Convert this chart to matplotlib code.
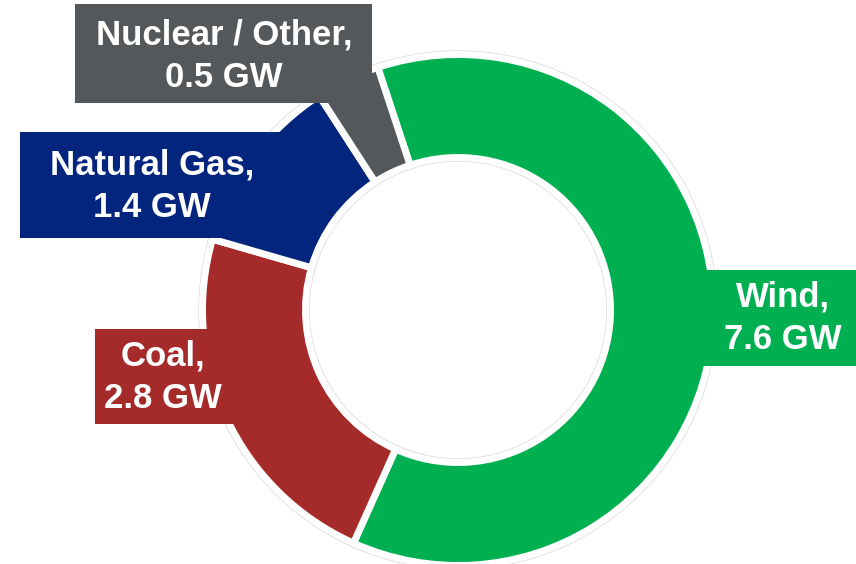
import matplotlib.pyplot as plt
from matplotlib.patches import Rectangle

# Datos de la capacidad (GW)
labels = ["Wind", "Coal", "Natural Gas", "Nuclear / Other"]
capacity_gw = [7.6, 2.8, 1.4, 0.5]
colors = ["#00B050", "#A52A2A", "#03257E", "#54585A"]

# Cajas de etiqueta en pixeles (x, y, ancho, alto), y medido desde arriba
boxes = [(700, 270, 160, 96), (95, 329, 145, 95), (20, 132, 270, 106), (75, 4, 297, 99)]
text_pos = [(783, 318), (163, 377), (152, 186), (224, 56)]

CENTER = (458, 310)
RADIUS = 255.5
RING_W = 103

fig = plt.figure(figsize=(8.56, 5.64), dpi=100)
ax = fig.add_axes([0, 0, 1, 1])

# El eje y va invertido (pixeles), por eso counterclock=True dibuja en sentido horario
# primero un contorno gris tenue, despues los sectores con borde blanco encima
ax.pie(capacity_gw, colors=colors, center=CENTER, radius=RADIUS,
       startangle=-108.3, counterclock=True,
       wedgeprops=dict(width=RING_W, edgecolor="#d9d9d9", linewidth=6.0))
ax.pie(capacity_gw, colors=colors, center=CENTER, radius=RADIUS,
       startangle=-108.3, counterclock=True,
       wedgeprops=dict(width=RING_W, edgecolor="white", linewidth=5))

for (x, y, w, h), c in zip(boxes, colors):
    ax.add_patch(Rectangle((x, y), w, h, facecolor=c, edgecolor="none", zorder=3))

for (tx, ty), lab, val in zip(text_pos, labels, capacity_gw):
    ax.text(tx, ty, "{},\n{} GW".format(lab, val), ha="center", va="center",
            multialignment="center", color="white", fontsize=25, linespacing=1.35,
            fontweight="bold", family="Liberation Sans", zorder=4)

ax.set_xlim(0, 856)
ax.set_ylim(564, 0)
ax.set_aspect("equal")
ax.axis("off")

fig.savefig("out.png", dpi=100)
